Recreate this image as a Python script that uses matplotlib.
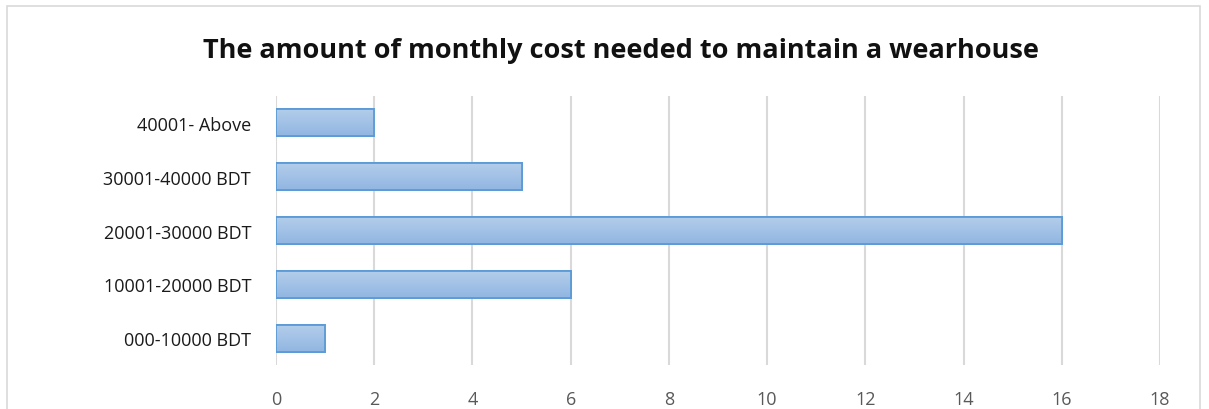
import matplotlib.pyplot as plt
import numpy as np
from matplotlib.patches import Rectangle
from matplotlib.colors import LinearSegmentedColormap

categories = ['000-10000 BDT', '10001-20000 BDT', '20001-30000 BDT',
              '30001-40000 BDT', '40001- Above']
values = [1, 6, 16, 5, 2]
x_ticks = list(range(0, 20, 2))

plt.rcParams['font.family'] = ['Open Sans', 'DejaVu Sans']

fig = plt.figure(figsize=(12.09, 4.10), dpi=100)
ax = fig.add_axes([0.2283, 0.1073, 0.7312, 0.6561])

# outer chart border (bottom edge is cut off in the reference)
fig.patches.append(Rectangle((7 / 1209, -0.05), 1193 / 1209, 1.05 - 7 / 410,
                             transform=fig.transFigure, fill=False,
                             edgecolor='#d9d9d9', linewidth=1.2))

y = np.arange(len(categories))
bars = ax.barh(y, values, height=0.5, color='#a3c1e6',
               edgecolor='#5b9bd5', linewidth=1.3, zorder=3)

# vertical gradient inside each bar, lighter on top
grad = np.linspace(0, 1, 100).reshape(-1, 1)
cmap = LinearSegmentedColormap.from_list('g', ['#b3cdeb', '#91b6e2'])
for b in bars:
    x0, y0 = b.get_x(), b.get_y()
    w, h = b.get_width(), b.get_height()
    im = ax.imshow(grad, extent=[x0, x0 + w, y0, y0 + h], aspect='auto',
                   cmap=cmap, origin='upper', zorder=3.5)
    im.set_clip_path(b)
    ax.add_patch(Rectangle((x0, y0), w, h, fill=False, edgecolor='#5b9bd5',
                           linewidth=1.3, zorder=4))

ax.set_xlim(0, 18)
ax.set_ylim(-0.5, 4.5)
ax.set_xticks(x_ticks)
ax.set_yticks(y)
ax.set_yticklabels(categories, fontsize=13, color='#1a1a1a')
ax.tick_params(axis='x', labelsize=13, labelcolor='#595959', length=0, pad=18)
ax.tick_params(axis='y', length=0, pad=18)
ax.grid(axis='x', color='#d9d9d9', linewidth=1.5, zorder=0)
for s in ax.spines.values():
    s.set_visible(False)

fig.text(0.5135, 0.875, 'The amount of monthly cost needed to maintain a wearhouse',
         ha='center', va='center', fontsize=19.5, fontweight='bold', color='#111111')

fig.savefig('out.png', dpi=100)
